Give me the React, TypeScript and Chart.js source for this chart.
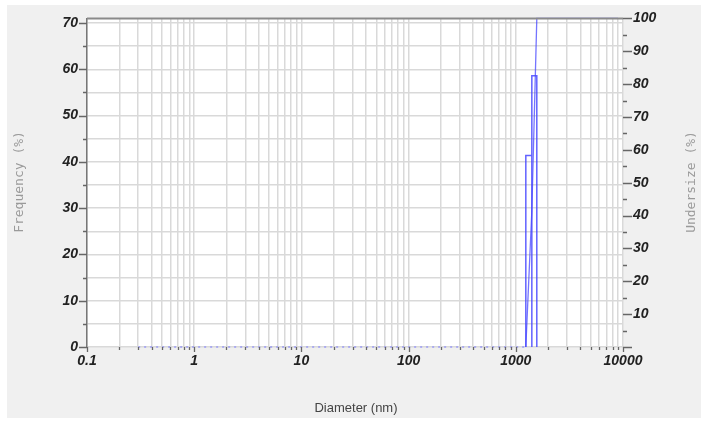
import React, { useEffect, useRef } from "react";
import { Chart, registerables } from "chart.js";

Chart.register(...registerables);

// ---- data ----
const binEdges = [1240, 1411, 1570]; // nm
const frequency = [41.4, 58.6]; // %
const undersizeX = [0.3, 1240, 1411, 1570, 9000];
const undersizeY = [0, 0, 41.4, 100, 100];

// ---- ticks ----
const xDecades = [0.1, 1, 10, 100, 1000];
const xMultipliers = [1, 2, 3, 4, 5, 6, 7, 8, 9];
const xMajorValues = [0.1, 1, 10, 100, 1000, 10000];
const xMajorLabels = ["0.1", "1", "10", "100", "1000", "10000"];
const leftTickValues = [0, 5, 10, 15, 20, 25, 30, 35, 40, 45, 50, 55, 60, 65, 70];
const rightTickValues = [0, 5, 10, 15, 20, 25, 30, 35, 40, 45, 50, 55, 60, 65, 70, 75, 80, 85, 90, 95, 100];

const xTickValues: number[] = [];
xDecades.forEach((d) =>
  xMultipliers.forEach((m) => xTickValues.push(Number((m * d).toPrecision(3))))
);
xTickValues.push(10000);

const tickFont = { family: '"Liberation Sans", Arial, sans-serif', size: 14, style: "italic" as const, weight: "bold" as const };

export default function App() {
  const ref = useRef<HTMLCanvasElement | null>(null);

  useEffect(() => {
    if (!ref.current) return;

    const freqPoints: { x: number; y: number }[] = [];
    frequency.forEach((f, i) => {
      freqPoints.push({ x: binEdges[i], y: 0 });
      freqPoints.push({ x: binEdges[i], y: f });
      freqPoints.push({ x: binEdges[i + 1], y: f });
      freqPoints.push({ x: binEdges[i + 1], y: 0 });
    });
    const underPoints = undersizeX.map((x, i) => ({ x, y: undersizeY[i] }));

    const decor = {
      id: "decor",
      beforeDraw(chart: any) {
        const { ctx, chartArea: a } = chart;
        ctx.save();
        ctx.fillStyle = "#ffffff";
        ctx.fillRect(0, 0, chart.width, chart.height);
        ctx.fillStyle = "#f0f0f0";
        ctx.fillRect(7, 5, 694, 413);
        ctx.fillStyle = "#ffffff";
        ctx.fillRect(a.left, a.top, a.right - a.left, a.bottom - a.top);
        ctx.restore();
      },
      afterDraw(chart: any) {
        const { ctx, chartArea: a } = chart;
        const y = chart.scales.y;
        const y2 = chart.scales.y2;
        const x = chart.scales.x;
        ctx.save();
        ctx.strokeStyle = "#666";
        ctx.lineWidth = 1.3;
        ctx.beginPath();
        leftTickValues.forEach((v) => {
          const p = Math.round(y.getPixelForValue(v)) + 0.5;
          const len = v % 10 === 0 ? 8 : 4;
          ctx.moveTo(a.left - len, p);
          ctx.lineTo(a.left, p);
        });
        rightTickValues.forEach((v) => {
          const p = Math.round(y2.getPixelForValue(v)) + 0.5;
          const len = v % 10 === 0 ? 9 : 4;
          ctx.moveTo(a.right, p);
          ctx.lineTo(a.right + len, p);
        });
        xTickValues.forEach((v) => {
          const p = Math.round(x.getPixelForValue(v)) + 0.5;
          const len = xMajorValues.indexOf(v) >= 0 ? 5 : 3;
          ctx.moveTo(p, a.bottom);
          ctx.lineTo(p, a.bottom + len);
        });
        ctx.stroke();
        // top border
        ctx.strokeStyle = "#8a8a8a";
        ctx.lineWidth = 2;
        ctx.beginPath();
        ctx.moveTo(a.left, a.top);
        ctx.lineTo(a.right, a.top);
        ctx.stroke();
        // titles
        ctx.fillStyle = "#9a9a9a";
        ctx.font = '13px "DejaVu Sans Mono", monospace';
        ctx.textAlign = "center";
        ctx.textBaseline = "middle";
        ctx.save();
        ctx.translate(20, 182);
        ctx.rotate(-Math.PI / 2);
        ctx.fillText("Frequency (%)", 0, 0);
        ctx.restore();
        ctx.save();
        ctx.translate(692, 182);
        ctx.rotate(-Math.PI / 2);
        ctx.fillText("Undersize (%)", 0, 0);
        ctx.restore();
        ctx.fillStyle = "#444";
        ctx.font = '13px "Liberation Sans", Arial, sans-serif';
        ctx.fillText("Diameter (nm)", 356, 408);
        ctx.restore();
      },
    };

    const chart = new Chart(ref.current, {
      type: "scatter",
      data: {
        datasets: [
          {
            label: "Frequency",
            data: freqPoints,
            showLine: true,
            pointRadius: 0,
            borderColor: "rgba(70,70,255,0.85)",
            borderWidth: 1.5,
            yAxisID: "y",
            clip: false,
          },
          {
            label: "Undersize",
            data: underPoints,
            showLine: true,
            pointRadius: 0,
            borderColor: "rgba(70,70,255,0.75)",
            borderWidth: 1.3,
            yAxisID: "y2",
            clip: false,
            segment: {
              borderDash: (c: any) =>
                c.p0.parsed.y === 0 && c.p1.parsed.y === 0 ? [2, 4] : undefined,
              borderColor: (c: any) =>
                c.p0.parsed.y === 0 && c.p1.parsed.y === 0 ? "rgba(120,120,255,0.65)" : undefined,
            },
          } as any,
        ],
      },
      options: {
        animation: false,
        responsive: false,
        maintainAspectRatio: false,
        layout: { padding: { top: 14, left: 0, right: 0, bottom: 0 } },
        plugins: { legend: { display: false }, tooltip: { enabled: false } },
        scales: {
          x: {
            type: "logarithmic",
            min: 0.1,
            max: 10000,
            afterBuildTicks: (s: any) => {
              s.ticks = xTickValues.map((v) => ({ value: v }));
            },
            afterFit: (s: any) => {
              s.height = 78;
            },
            ticks: {
              autoSkip: false,
              maxRotation: 0,
              padding: 6,
              color: "#222",
              font: tickFont,
              callback: (v: any) => {
                const i = xMajorValues.indexOf(Number(v));
                return i >= 0 ? xMajorLabels[i] : "";
              },
            },
            grid: { color: "#d9d9d9", lineWidth: 1.5, drawTicks: false },
            border: { display: false },
          },
          y: {
            type: "linear",
            position: "left",
            min: 0,
            max: 71,
            afterBuildTicks: (s: any) => {
              s.ticks = leftTickValues.map((v) => ({ value: v }));
            },
            afterFit: (s: any) => {
              s.width = 87;
            },
            ticks: {
              autoSkip: false,
              padding: 9,
              color: "#222",
              font: tickFont,
              callback: (v: any) => (Number(v) % 10 === 0 ? String(v) : ""),
            },
            grid: { color: "#d9d9d9", lineWidth: 1.5, drawTicks: false },
            border: { display: true, color: "#777", width: 1.5 },
          },
          y2: {
            type: "linear",
            position: "right",
            min: 0,
            max: 100,
            afterBuildTicks: (s: any) => {
              s.ticks = rightTickValues.map((v) => ({ value: v }));
            },
            afterFit: (s: any) => {
              s.width = 85;
            },
            ticks: {
              autoSkip: false,
              padding: 10,
              color: "#222",
              font: tickFont,
              callback: (v: any) => (Number(v) % 10 === 0 && Number(v) !== 0 ? String(v) : ""),
            },
            grid: { display: false, drawTicks: false },
            border: { display: false },
          },
        },
      },
      plugins: [decor],
    } as any);

    return () => chart.destroy();
  }, []);

  return (
    <div style={{ position: "absolute", left: 0, top: 0, width: 708, height: 425 }}>
      <canvas ref={ref} width={708} height={425} style={{ display: "block", width: 708, height: 425 }} />
    </div>
  );
}
